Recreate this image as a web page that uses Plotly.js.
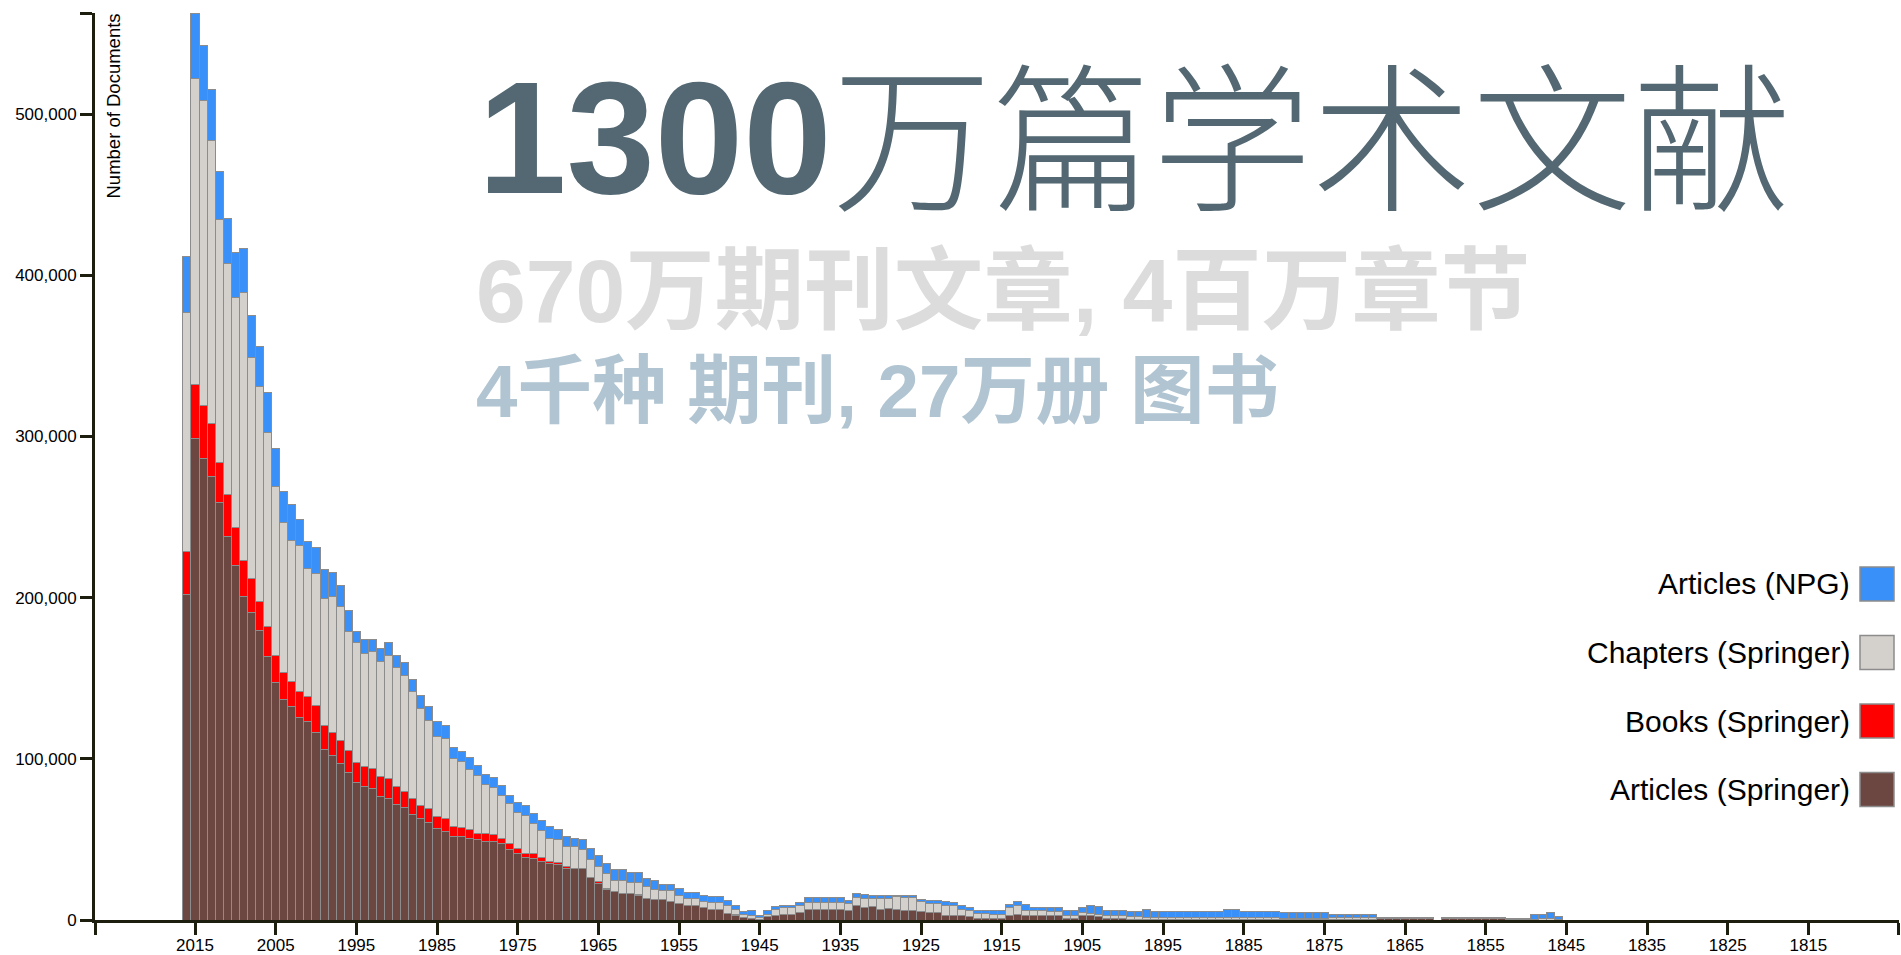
<!DOCTYPE html>
<html><head><meta charset="utf-8">
<script src="https://cdn.plot.ly/plotly-3.0.1.min.js"></script>
<style>html,body{margin:0;padding:0;background:#fff;overflow:hidden}#chart{width:1901px;height:955px}</style>
</head><body><div id="chart"></div>
<script>
// ---------------- DATA ----------------
const years = [
2016,2015,2014,2013,2012,2011,2010,2009,2008,2007,
2006,2005,2004,2003,2002,2001,2000,1999,1998,1997,
1996,1995,1994,1993,1992,1991,1990,1989,1988,1987,
1986,1985,1984,1983,1982,1981,1980,1979,1978,1977,
1976,1975,1974,1973,1972,1971,1970,1969,1968,1967,
1966,1965,1964,1963,1962,1961,1960,1959,1958,1957,
1956,1955,1954,1953,1952,1951,1950,1949,1948,1947,
1946,1945,1944,1943,1942,1941,1940,1939,1938,1937,
1936,1935,1934,1933,1932,1931,1930,1929,1928,1927,
1926,1925,1924,1923,1922,1921,1920,1919,1918,1917,
1916,1915,1914,1913,1912,1911,1910,1909,1908,1907,
1906,1905,1904,1903,1902,1901,1900,1899,1898,1897,
1896,1895,1894,1893,1892,1891,1890,1889,1888,1887,
1886,1885,1884,1883,1882,1881,1880,1879,1878,1877,
1876,1875,1874,1873,1872,1871,1870,1869,1868,1867,
1866,1865,1864,1863,1862,1861,1860,1859,1858,1857,
1856,1855,1854,1853,1852,1851,1850,1849,1848,1847,
1846];

const articlesSpringer = [
202100,298800,286500,275000,258800,237700,219900,201000,190600,179500,
163300,147100,136600,132200,125500,123300,116600,106000,102200,97400,
91700,85100,82900,81600,76600,75100,71700,69600,65500,62900,
60700,56600,55100,51600,51700,50400,49700,48600,48600,47600,
43500,41000,38700,38300,36600,35200,34200,31700,31700,31700,
26300,22800,19100,17600,16600,16600,15500,13500,12900,12900,
11400,10400,8900,8900,7900,6600,6600,4200,3100,1500,
1000,600,2000,2500,3700,3700,4800,6600,6600,6600,
6600,6600,6200,8700,7500,8300,6600,7200,6600,6200,
6200,5200,4800,4800,3100,2500,2500,2100,1000,1000,
1000,1000,2500,3700,2500,2500,2500,2500,2500,1000,
1000,2500,2500,2000,800,800,800,500,500,500,
500,500,500,500,500,500,500,500,500,500,
500,500,500,500,500,500,300,300,300,300,
300,300,500,500,500,500,500,500,800,800,
800,800,800,800,800,0,800,800,800,800,
800,800,800,800,0,0,0,0,0,0,
0];

const booksSpringer = [
26700,33200,32700,33300,25000,26000,23300,21800,21100,18200,
18900,17200,16700,15500,16000,15500,16700,14600,14400,13700,
13400,12700,12200,12400,12300,12700,11200,10400,9600,8200,
8200,7400,7800,6200,5600,5600,4100,5200,4200,2700,
4100,3100,2700,3100,2100,1400,1400,1400,300,200,
200,1200,200,100,100,100,100,100,100,100,
100,100,100,100,100,100,100,100,100,0,
0,0,0,0,0,0,0,0,0,0,
0,0,0,0,0,0,0,0,0,0,
0,0,0,0,0,0,0,0,0,0,
0,0,0,0,0,0,0,0,0,0,
0,0,0,0,0,0,0,0,0,0,
0,0,0,0,0,0,0,0,0,0,
0,0,0,0,0,0,0,0,0,0,
0,0,0,0,0,0,0,0,0,0,
0,0,0,0,0,0,0,0,0,0,
0,0,0,0,0,0,0,0,0,0,
0];

const chaptersSpringer = [
148400,190300,189500,175300,150900,143500,142900,166800,137200,133500,
120100,104400,93300,87800,90600,79500,81500,78900,84000,83200,
74100,74400,70400,72600,71700,76500,73700,71500,66400,60400,
55100,50000,50000,42600,40900,37300,35600,30500,29600,26900,
24400,22800,23200,18200,16800,14100,14100,12400,13500,11600,
11200,9100,9700,7100,8100,6700,7800,7100,6100,5200,
6700,5000,4500,4500,3400,4300,4300,4400,3400,2100,
1500,800,1500,4100,3900,3800,3900,4400,4400,4400,
4400,4400,4200,5200,5600,5200,6900,6300,7900,7700,
7700,6000,5600,5600,6200,6200,4100,4100,3100,2800,
2700,2700,5000,5000,3700,3700,3700,2700,2700,2000,
2000,2000,1600,1600,1700,1700,1700,1500,1500,1200,
1200,1200,1200,1200,1200,1200,1200,1200,1200,1200,
1200,1000,1000,1000,1000,1000,500,500,500,500,
500,500,1200,1200,1200,1200,1200,1200,1000,1000,
1000,1000,1000,1000,1000,0,1000,1000,1000,1000,
1000,1000,1000,1000,200,200,200,500,700,800,
500];

const articlesNPG = [
34200,40400,34100,31900,29500,28000,28000,27000,26200,24900,
25200,23600,19300,22100,16600,16500,16200,17800,15300,13000,
12900,7000,8800,7700,7800,7900,7700,8000,8000,8000,
8200,9300,7700,6700,6200,7300,6400,5800,6200,6200,
5200,6200,6400,6200,6200,7200,6200,6200,5200,6200,
6800,6700,5800,6300,6300,6200,6200,5200,5700,4000,
4000,4200,3700,3700,3700,3500,3500,3300,2700,1900,
3100,1700,2100,1700,1700,1800,2000,2900,2900,2900,
2900,2900,2000,2700,2500,1600,1600,1600,1000,1200,
1200,1600,2000,2000,2100,2100,2100,1700,2100,2100,
2500,2500,2000,3000,3300,1800,1800,2600,2600,3000,
3000,3200,4600,4600,3500,3500,3500,3500,3500,5000,
3500,3500,3500,3500,3500,3500,3500,3500,3500,5000,
5000,3500,3500,3500,3500,3500,4000,4000,4000,4000,
4000,4000,1500,1500,1500,1500,1500,1500,0,0,
0,0,0,0,0,0,0,0,0,0,
0,0,0,0,1000,1000,1000,2800,3000,4000,
1600];

const seriesNames = ['Articles (Springer)','Books (Springer)','Chapters (Springer)','Articles (NPG)'];
const xTickYears = [2015,2005,1995,1985,1975,1965,1955,1945,1935,1925,1915,1905,1895,1885,1875,1865,1855,1845,1835,1825,1815];
const yTickValues = [0,100000,200000,300000,400000,500000];
const yTickLabels = ['0','100,000','200,000','300,000','400,000','500,000'];
const yAxisTitle = 'Number of Documents';
const titleNumber = '1300';
const titleRest = '万篇学术文献';
const subtitle1 = '670万期刊文章, 4百万章节';
const subtitle2 = '4千种 期刊, 27万册 图书';

// ---------------- STYLE ----------------
const seriesValues = [articlesSpringer, booksSpringer, chaptersSpringer, articlesNPG];
const seriesColors = ['#6c4640','#ff0000','#d4d0cc','#3990f8'];
const strokeColor = '#8c8c8c';
const axisColor = '#1e1e0e';
const W = 1901, H = 955;
const M = {l:95, r:2, t:13, b:35};
const plotW = W - M.l - M.r, plotH = H - M.t - M.b;
const fx = px => (px - M.l) / plotW;
const fy = py => (H - M.b - py) / plotH;

const totals = years.map((_, i) => seriesValues.reduce((s, arr) => s + arr[i], 0));
const yMax = Math.max(...totals);
const xRange = [2027.4, 1803.76];

const traces = seriesNames.map((name, k) => ({
  type: 'bar', name: name, x: years, y: seriesValues[k], width: 1,
  marker: {color: seriesColors[k], line: {color: strokeColor, width: 1}},
  hoverinfo: 'skip', showlegend: false
}));

const annotations = [
  {xref:'paper', yref:'paper', x:fx(113), y:fy(12), xanchor:'center', yanchor:'top', textangle:-90,
   text:yAxisTitle, showarrow:false, font:{family:'Liberation Sans, Arial, sans-serif', size:18.5, color:'#000'}},
  {xref:'paper', yref:'paper', x:fx(476), y:fy(138), xanchor:'left', yanchor:'middle', showarrow:false,
   text:titleNumber, font:{family:'Liberation Sans, Arial, sans-serif', size:159, color:'#536872', weight:'bold'}},
  {xref:'paper', yref:'paper', x:fx(830), y:fy(129), xanchor:'left', yanchor:'middle', showarrow:false,
   text:titleRest, font:{family:'Noto Sans CJK SC, sans-serif', size:160, color:'#536872', weight:300}},
  {xref:'paper', yref:'paper', x:fx(474), y:fy(291), xanchor:'left', yanchor:'middle', showarrow:false,
   text:subtitle1, font:{family:'Liberation Sans, Noto Sans CJK SC, sans-serif', size:89.5, color:'#dcdcdc', weight:'bold'}},
  {xref:'paper', yref:'paper', x:fx(474), y:fy(391), xanchor:'left', yanchor:'middle', showarrow:false,
   text:subtitle2, font:{family:'Liberation Sans, Noto Sans CJK SC, sans-serif', size:74.5, color:'#b0c4d1', weight:'bold'}}
];

const shapes = [];
// custom legend: top item is the top of the stack
const legendOrder = [3, 2, 1, 0];
const legendCenters = [584, 652.5, 721, 789.5];
legendOrder.forEach((k, j) => {
  const cy = legendCenters[j];
  shapes.push({type:'rect', xref:'paper', yref:'paper', x0:fx(1860), x1:fx(1894), y0:fy(cy+17), y1:fy(cy-17),
    fillcolor:seriesColors[k], line:{color:strokeColor, width:1.5}});
  annotations.push({xref:'paper', yref:'paper', x:fx(1852), y:fy(cy), xanchor:'right', yanchor:'middle', showarrow:false,
    text:seriesNames[k], font:{family:'Liberation Sans, Arial, sans-serif', size:30, color:'#000'}});
});

const layout = {
  width: W, height: H, margin: {l:M.l, r:M.r, t:M.t, b:M.b, pad:0},
  paper_bgcolor:'#fff', plot_bgcolor:'#fff',
  barmode:'stack', bargap:0, showlegend:false, hovermode:false,
  font:{family:'Liberation Sans, Arial, sans-serif', size:17, color:'#000'},
  xaxis:{range:xRange, tickmode:'array',
    tickvals:[2027.35].concat(xTickYears, [1803.8]),
    ticktext:[''].concat(xTickYears.map(String), ['']),
    ticks:'outside', ticklen:12, tickwidth:3, tickcolor:axisColor, ticklabelstandoff:-4,
    showline:true, linewidth:3, linecolor:axisColor, showgrid:false, zeroline:false,
    tickfont:{size:17, color:'#000'}},
  yaxis:{range:[0, yMax], tickmode:'array',
    tickvals:yTickValues.concat([yMax*0.9999]), ticktext:yTickLabels.concat(['']),
    ticks:'outside', ticklen:12, tickwidth:3, tickcolor:axisColor,
    showline:true, linewidth:3, linecolor:axisColor, showgrid:false, zeroline:false,
    tickfont:{size:17, color:'#000'}},
  annotations: annotations, shapes: shapes
};

Plotly.newPlot('chart', traces, layout, {displayModeBar:false, staticPlot:true});
</script></body></html>
